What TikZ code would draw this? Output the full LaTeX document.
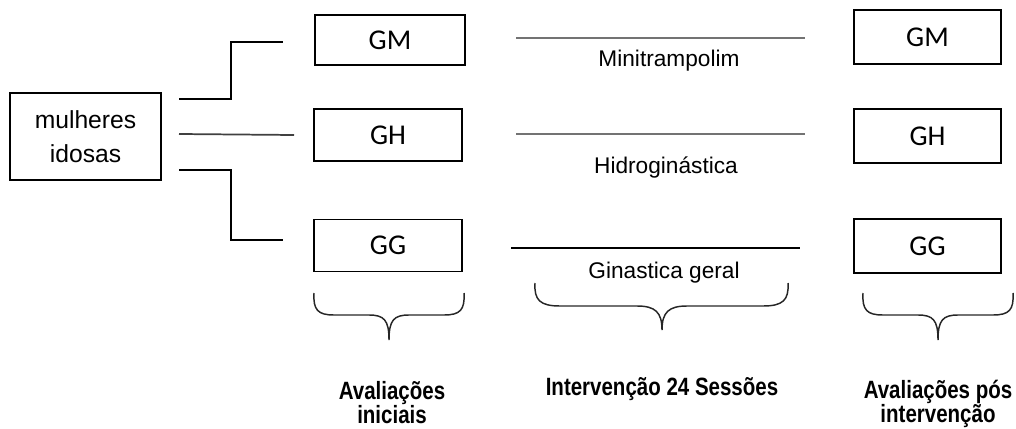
\documentclass[tikz,border=0pt]{standalone}
\usepackage{fontspec}
\setmainfont{Liberation Sans}
\newfontfamily\calib{Carlito}
\newfontfamily\narrowb{Liberation Sans Bold}[FakeStretch=0.82]
\begin{document}
\begin{tikzpicture}[x=0.75pt,y=-0.75pt,
  box/.style={draw,line width=1.3pt,inner sep=0pt},
  grp/.style={box,minimum width=110.5pt,minimum height=39pt,font=\calib\fontsize{21.5}{24}\selectfont},
  conn/.style={line width=1.3pt},
  sess/.style={line width=1.5pt,draw=black!55},
  lab/.style={anchor=base,inner sep=0pt,font=\fontsize{17}{20}\selectfont},
  brace/.style={line width=1.1pt,draw=black!85},
  phase/.style={anchor=base,inner sep=0pt,align=center,font=\narrowb\fontsize{18.75}{18}\selectfont}]
\useasboundingbox (0,0) rectangle (1016,428);
% start node
\node[box,minimum width=113pt,minimum height=65pt,align=center,
      font=\fontsize{18.5}{25.5}\selectfont] (mul) at (85.5,136.5) {mulheres\\idosas};
% initial groups
\node[grp,minimum width=112.5pt,minimum height=37.5pt] (gm1) at (390,40) {GM};
\node[grp] (gh1) at (388,135) {GH};
\node[grp] (gg1) at (388,245.5) {GG};
% final groups
\node[grp,minimum width=110pt,minimum height=40.5pt] (gm2) at (927.5,37) {GM};
\node[grp,minimum width=110pt,minimum height=40.5pt] (gh2) at (927.5,136) {GH};
\node[grp,minimum width=110pt,minimum height=40.5pt] (gg2) at (927.5,246) {GG};
% connectors from mul
\coordinate (a1) at (179,99);  \coordinate (a2) at (283,42);
\coordinate (b1) at (179,134); \coordinate (b2) at (294,135);
\coordinate (c1) at (179,170); \coordinate (c2) at (283,240);
\draw[conn] (a1) -- (231,99) |- (a2);
\draw[conn,draw=black!75] (b1) -- (b2);
\draw[conn] (c1) -- (231,170) |- (c2);
% intervention lines
\coordinate (m1) at (516,38.5); \coordinate (m2) at (805,38.5);
\coordinate (h1) at (516,134);  \coordinate (h2) at (805,134);
\coordinate (g1) at (511,248);  \coordinate (g2) at (800,248);
\draw[sess] (m1) -- (m2);
\draw[sess] (h1) -- (h2);
\draw[line width=1.5pt] (g1) -- (g2);
\node[lab] (lm) at (669,67) {Minitrampolim};
\node[lab] (lh) at (666,173) {Hidroginástica};
\node[lab] (lg) at (664,278) {Ginastica geral};
% braces
\draw[brace] (314,293) .. controls (313,310) and (318,315) .. (334,315)
  -- (369,315) .. controls (384,315) and (389,320) .. (389,340)
  .. controls (389,320) and (394,315) .. (409,315)
  -- (444,315) .. controls (460,315) and (465,310) .. (464,293);
\draw[brace] (535,283) .. controls (534,300) and (540,306) .. (560,306)
  -- (637,306) .. controls (655,306) and (662,312) .. (662,330)
  .. controls (662,312) and (669,306) .. (687,306)
  -- (763,306) .. controls (783,306) and (789,300) .. (788,283);
\draw[brace] (863,293) .. controls (862,310) and (867,315) .. (883,315)
  -- (918,315) .. controls (933,315) and (938,320) .. (938,340)
  .. controls (938,320) and (943,315) .. (958,315)
  -- (993,315) .. controls (1009,315) and (1014,310) .. (1013,293);
% phase labels
\node[phase] (p1) at (392,423) {Avaliações\\iniciais};
\node[phase] (p2) at (662,395) {Intervenção 24 Sessões};
\node[phase] (p3) at (938,422) {Avaliações pós\\intervenção};
\end{tikzpicture}
\end{document}
